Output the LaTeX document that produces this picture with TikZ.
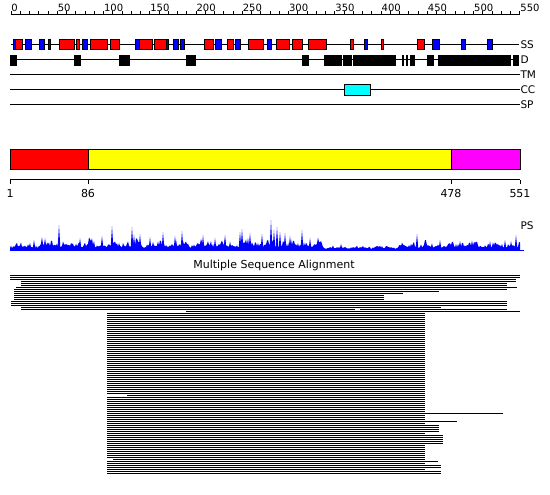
\documentclass[tikz,border=0pt]{standalone}
\usepackage{fontspec}
\setmainfont{DejaVu Sans}
\definecolor{ssred}{RGB}{255,0,0}
\definecolor{ssblue}{RGB}{0,0,255}
\definecolor{cccyan}{RGB}{0,255,255}
\definecolor{domyellow}{RGB}{255,255,0}
\definecolor{dommagenta}{RGB}{255,0,255}
\begin{document}
\begin{tikzpicture}[x=1pt,y=-1pt,line width=1pt,
    helix/.style={draw=black,fill=ssred},
    strand/.style={draw=black,fill=ssblue},
    disorder/.style={fill=black},
    tracklab/.style={anchor=west,inner sep=0pt,font=\fontsize{10.5}{10.5}\selectfont},
    rulerlab/.style={anchor=south west,inner sep=0pt,font=\fontsize{10}{10}\selectfont},
    domlab/.style={anchor=north,inner sep=0pt,font=\fontsize{11}{11}\selectfont},
    msaline/.style={line width=1pt},
    declare function={rx(\u)=11+\u*0.92545;
        lvl(\x)=ifthenelse(\x<40,7,ifthenelse(\x<325,9,ifthenelse(\x<400,4.5,7.5)));
        wav(\x)=0.8+0.35*sin(23*\x)*sin(7*\x);}]
    \useasboundingbox (0,0) rectangle (550,495);
    \pgfmathsetseed{42}

    % ruler
    \draw (11,15)--(520,15);
    \foreach \u in {0,10,...,550}
        \draw ({rx(\u)},15)--({rx(\u)},11);
    \foreach \u in {0,50,...,550}
        \node[rulerlab] (r\u) at ({rx(\u)},12) {\u};

    % tracks
    \draw (11,45)--(519,45);
    \draw (10,60)--(519,60);
    \foreach \y in {75,90,105}
        \draw (10,\y)--(520,\y);
    \foreach \a/\b in {15.3/22.3, 59.3/74.3, 76.3/79.7, 90.3/107.3, 110.3/119.3, 139.7/152.7, 154.3/166.7, 204.3/213.3, 227.3/233.3, 248.3/263.3, 276/289.3, 292.3/302.7, 308.3/326.3, 350.3/353.3, 381.3/383.7, 417.3/424.3}
        \draw[helix] (\a,40) rectangle (\b,50);
    \foreach \a/\b in {13.3/15.3, 25.3/31.7, 39.3/44.7, 48.3/50.3, 82.3/87.7, 135/139.7, 166.7/168.7, 173.3/178.7, 180.3/184.3, 215.3/221.3, 235/240.7, 267.3/271.7, 364.3/367.3, 432.3/439.7, 461.3/465.3, 487.3/492.3}
        \draw[strand] (\a,40) rectangle (\b,50);
    \foreach \a/\b in {10/16.7, 74/80.7, 119/129.7, 186/196, 302/308.7, 324/341.7, 343/351.7, 353/395.7, 402/404, 406/408, 409.5/415, 427/433.7, 438.3/511, 512.7/519}
        \fill[disorder] (\a,55) rectangle (\b,66);
    \draw[fill=cccyan] (344.3,85) rectangle (370.7,95.7);
    \node[tracklab] (ss) at (520,45) {SS};
    \node[tracklab] (d) at (520,60) {D};
    \node[tracklab] (tm) at (520,75) {TM};
    \node[tracklab] (cc) at (520,90) {CC};
    \node[tracklab] (sp) at (520,105) {SP};

    % domains
    \draw[fill=ssred] (10,150) rectangle (88,170);
    \draw[fill=domyellow] (88,150) rectangle (451,170);
    \draw[fill=dommagenta] (451,150) rectangle (520,170);
    \draw (10,180)--(520,180);
    \foreach \x/\t in {10/1, 88/86, 451/478, 520/551} {
        \draw (\x,180)--(\x,184);
        \node[domlab] (dom\t) at (\x,189) {\t};
    }

    % PS profile
    \fill[ssblue] (10,250) -- plot[samples=511,domain=10:520] (\x,{250-lvl(\x)*wav(\x)*(0.5+0.8*rnd^2)}) -- (520,250) -- cycle;
    \foreach \c/\h in {34/10, 45/12, 59/25, 80/12, 102/14, 112/24, 132/23, 134/15, 140/16, 150/13, 163/18, 175/14, 182/19, 203/15, 215/12, 225/15, 240/18, 242/21, 250/17, 262/16, 271/30, 274/20, 277/23, 280/18, 285/17, 290/14, 302/20, 310/12, 417/16, 440/10, 460/9, 490/9, 505/10, 516/15}
        \fill[ssblue] (\c-1.5,250) -- (\c,250-\h) -- (\c+1.5,250) -- cycle;
    \draw[ssblue] (10,250)--(524,250);
    \node[tracklab] (ps) at (520,226) {PS};

    % alignment
    \node[inner sep=0pt,font=\fontsize{11}{11}\selectfont] (msa) at (274,265) {Multiple Sequence Alignment};
    \foreach \y/\a/\b in {275/10/520, 277/10/520, 279/10/516, 281/21/516, 283/21/507, 285/21/507, 287/16/517, 289/14/507, 291/14/439, 293/14/403, 295/14/384, 297/14/384, 299/14/384, 301/11/507, 303/11/507, 305/11/507, 307/21/441, 309/21/355, 309/360/507, 311/186/520}
        \draw[msaline] (\a,\y)--(\b,\y);
    \foreach \y in {313,315,...,473}
        \draw[msaline] (107,\y)--(425,\y);
    \foreach \y/\b in {413/503, 421/457, 425/439, 427/439, 429/439, 431/439, 435/443, 437/443, 439/443, 441/443, 443/443, 461/438, 465/441, 467/441, 471/441, 473/441}
        \draw[msaline] (425,\y)--(\b,\y);
    \foreach \y/\b in {395/127, 459/113}
        \draw[msaline,white] (107,\y)--(\b,\y);
\end{tikzpicture}
\end{document}
